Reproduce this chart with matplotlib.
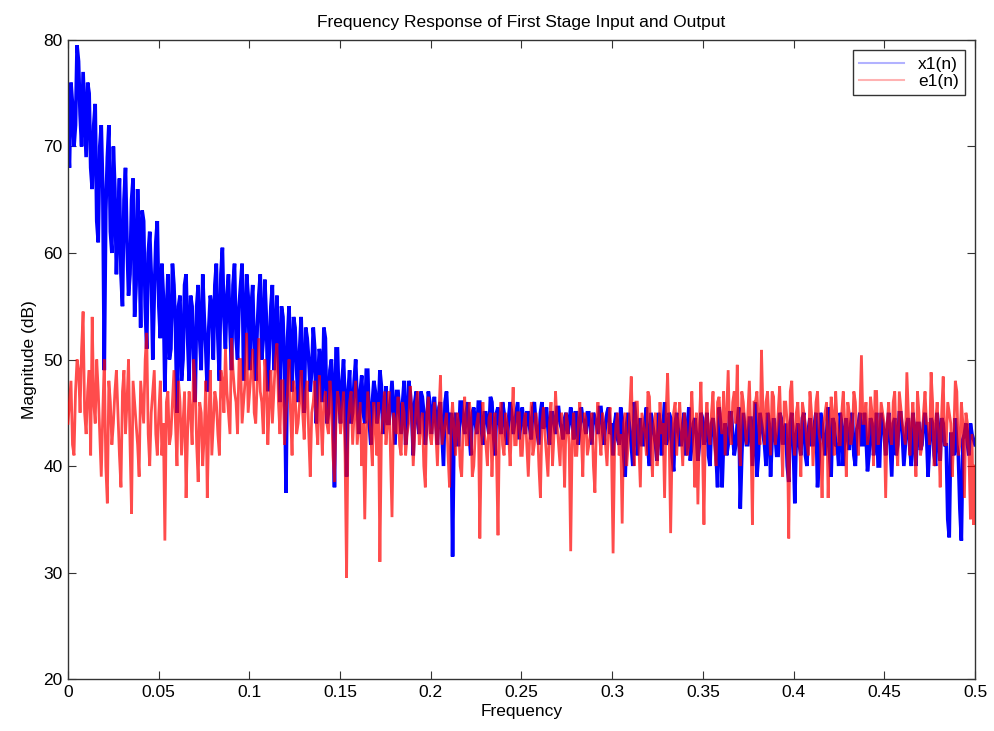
import numpy as np
import matplotlib
matplotlib.use("Agg")
import matplotlib.pyplot as plt
from matplotlib import font_manager

# ---------------- data (dB) ----------------
# main samples
x1_db = [
    71, 76, 70, 79.5, 73, 77, 69, 75, 66, 74, 61, 72, 49, 69, 62, 70, 58, 67, 55, 68, 56, 65, 54, 66, 53, 63, 51, 62, 50, 61,
    55, 59, 47, 58, 51, 57, 45, 56, 50, 58, 48, 55, 46, 57, 49, 54, 47, 56, 50, 59, 48, 60.5, 51, 58, 49, 59, 50, 57, 48, 58,
    49, 57, 48, 56, 50, 57.5, 47, 55, 49, 56, 46, 54, 37.5, 55, 47, 53, 46, 54, 45, 52, 47, 53, 44, 51, 46, 52, 45, 50, 38, 51,
    44, 50, 39, 49, 45, 50, 43, 48.5, 44, 49, 42, 48, 44, 49, 43, 47.5, 44, 48, 42, 47, 43, 48, 44, 47, 41, 47, 43, 46.5, 42, 47,
    43, 46.5, 42, 46, 40, 47, 43, 31.5, 45, 42, 46, 43, 46, 41, 45.5, 43, 46, 42, 45, 43, 46, 41, 45.5, 43, 45, 42, 46, 43, 45, 42.5,
    45.5, 43, 45, 42.5, 46, 43, 45, 43.5, 45.5, 42, 45, 43, 45.5, 43.5, 44.5, 43, 45.5, 42.5, 45, 43.5, 44.5, 43, 45, 42, 44.5, 43, 45.5, 42, 45, 43,
    41, 45, 42, 44.5, 39, 45, 42, 46, 41, 44.5, 42, 45.5, 40, 44, 42, 45, 41, 46, 42.5, 44.5, 39.5, 45, 42, 44, 41, 45.5, 42, 44.5, 40.5, 45,
    42, 45, 40, 44.5, 41, 45.5, 38, 44, 42, 45, 41, 44, 36, 45, 42, 44.5, 40, 46, 41, 44, 42, 45, 39, 44.5, 41, 45, 42, 44, 38.5, 45,
    36.5, 44, 41, 45, 40, 44.5, 42, 45, 40.5, 44, 41, 45.5, 39, 44, 42, 45, 40, 44.5, 41.5, 45, 40, 44, 42, 45, 39.5, 44.5, 41, 45, 40, 44,
    41, 45, 39, 44.5, 42, 45, 40, 44, 41.5, 45, 40, 44, 42, 45, 39, 44.5, 41, 45, 40.5, 44, 42, 33.3, 43, 44.5, 41, 33, 43, 42, 44, 42.5,
]
# in-between samples
x1_db_mid = [
    68, 74, 72, 78, 70, 73, 76, 68, 72, 63, 70, 66, 64, 72, 60, 66, 63, 58, 65, 61, 58, 67, 57, 61, 64, 55, 60, 58, 56, 63,
    52, 56, 54, 50, 59, 53, 55, 48, 57, 52, 56, 50, 55, 52, 58, 51, 53, 55, 57, 52, 58, 54, 56, 53, 57, 52, 55, 59, 53, 56,
    55, 51, 53, 58, 52, 54, 51, 57, 52, 50, 55, 49, 52, 50, 54, 49, 51, 48, 53, 50, 49, 51, 48, 50, 53, 44, 49, 47, 51, 46,
    48, 46, 47, 44, 48, 46, 47, 45, 49, 44, 46, 47, 45, 47.5, 45, 44, 46, 45, 47, 45, 46, 42, 48, 45, 46, 44, 47, 45, 44, 46,
    45, 44, 45.5, 43, 46, 44, 45, 44, 42, 46, 44, 45, 43, 45, 44, 46, 43.5, 45, 44, 46.5, 43, 45, 44, 46, 43, 44.5, 45, 44, 46, 44,
    44, 45, 43.5, 45.5, 44, 42, 46, 44, 43.5, 45, 44, 45.5, 44, 42.5, 45, 44, 44.5, 45, 42, 45.5, 44, 45, 43.5, 45, 44, 45.5, 43.5, 44, 45.5, 44,
    44, 42.5, 45.5, 41, 44, 43.5, 40, 44.5, 43, 42, 44, 41.5, 45, 43, 40.5, 44, 43.5, 42, 45, 41, 44, 43.5, 42, 45, 43, 40.5, 44, 43, 42, 44.5,
    43, 41, 44, 43, 38, 44, 42.5, 41, 45, 43, 42, 45.5, 41, 43.5, 42, 44.5, 43, 39, 45, 43, 40, 44, 42.5, 43, 41, 44.5, 43, 40, 44, 42,
    43, 42, 44.5, 41, 43.5, 42, 44, 38, 45, 42.5, 43, 41, 44.5, 42, 40, 44, 43, 42.5, 44, 41, 43.5, 45, 42, 43, 41, 44, 42.5, 40, 45, 43,
    43.5, 42, 44, 41, 45, 43, 42, 44.5, 40, 43, 44, 41.5, 44, 43, 42, 44, 40, 43, 44.5, 42, 35, 43, 41, 42, 36, 42.5, 44, 41, 43, 42,
]

e1_db = [
    44, 48, 41, 50, 45, 54.5, 43, 49, 54, 44, 47, 39, 50, 36.5, 46, 44, 49, 41, 47, 43, 50, 35.5, 46, 42, 48, 44, 52.5, 40, 47, 43,
    45, 41, 33, 47, 43, 49, 40, 46, 44, 37, 47, 42, 48, 38.5, 45, 43, 37, 49, 44, 46, 41, 48, 51, 45, 52, 47, 43, 50, 46, 52.5,
    47, 51, 44, 52, 46, 50, 42, 49, 47, 51.5, 43, 48, 45, 50, 41, 47, 44, 49, 42.5, 48, 39, 46, 44, 48.5, 41, 47, 43, 46, 38.5, 47,
    43, 47, 29.5, 46, 42, 48, 44, 40, 35, 47, 43, 46, 41, 31, 45, 42, 47, 35.2, 44, 46.5, 41, 45, 43, 47.5, 40, 46, 42, 45, 38, 46.5,
    42, 46, 40, 48.5, 43, 45, 38, 46, 41, 44, 39, 46.5, 42, 45, 40, 44, 33.2, 46, 42, 44.5, 39, 45, 33.5, 46, 41, 44, 40, 47.4, 42, 45,
    41, 45, 39, 46, 42, 44, 37, 45.5, 41, 44, 40, 47, 42, 45, 38, 44, 32, 45, 41, 46, 39, 44.5, 42, 45, 37.5, 46, 41, 44, 40, 45.5,
    31.8, 44, 41, 34.6, 45, 42, 48.4, 40, 46, 38, 44, 41, 46.5, 39, 45, 42, 43, 37, 48.7, 33.7, 45, 41, 46, 40, 44, 42, 47, 38, 36.4, 47.9,
    34.5, 46, 42, 47, 40, 46.5, 43, 41, 49, 42, 47, 49.5, 40, 46, 42, 48, 34.5, 46, 44, 50.9, 42, 47, 41, 46.5, 43, 47.5, 39, 46, 33.2, 48,
    41, 46, 39, 45, 42, 47, 40, 46, 43, 37, 45, 37, 46.5, 41, 44, 42, 47, 39, 45, 43, 46, 41, 50.4, 44, 42, 46.5, 40, 47, 43, 45,
    37, 46, 42, 47, 40, 45.5, 43, 48.8, 41, 46, 39, 45, 42, 47, 44, 48.8, 40, 46, 38, 48.4, 42, 45, 39, 48, 41, 46, 37, 44, 35, 34.5,
]
e1_db_mid = [
    46, 42, 47, 49, 51, 45, 47, 41, 46, 50, 43, 45, 40, 48, 42, 47, 45, 38, 49, 46, 42, 48, 44, 39, 46, 50, 43, 45, 49, 41,
    48, 44, 46, 42, 46, 44, 48, 41, 47, 43, 45, 50, 42, 46, 40, 48, 44, 41, 47, 43, 49, 45, 47, 43, 49, 46, 50, 44, 48, 45,
    49, 45, 48, 47, 43, 48, 46, 44, 50, 46, 48, 42, 47, 45, 48, 43, 46, 45, 47, 43, 45, 48, 42, 45, 46, 44, 48, 41, 44, 46,
    45, 41, 44, 47, 45, 42, 46, 44, 43, 45, 40, 44, 46, 43, 47, 44, 41, 45, 43, 42, 46, 41, 44, 45, 43, 47, 44, 40, 45, 43,
    44, 43, 45, 42, 44, 41, 44, 43, 45, 40, 44, 42, 46, 39, 43, 45, 42, 43, 40, 45, 43, 41, 44, 42, 45, 43, 44, 42, 45, 41,
    44, 42, 43, 41, 45, 40, 44, 43, 39, 46, 43, 44, 40, 43, 45, 42, 43, 41, 44, 43, 45, 41, 43, 40, 44, 43, 45, 42, 44, 41,
    42, 45, 43, 44, 40, 45, 43, 46, 42, 45, 43, 47, 42, 44, 40, 46, 44, 45, 43, 42, 46, 44, 43, 45, 41, 44, 43, 45, 44, 42,
    44, 43, 45, 42, 46, 44, 47, 45, 43, 46, 44, 42, 47, 44, 45, 43, 46, 47, 42, 45, 46, 44, 47, 42, 45, 43, 46, 44, 47, 43,
    45, 43, 46, 44, 41, 45, 43, 47, 42, 44, 46, 43, 45, 47, 42, 45, 44, 46, 42, 47, 43, 45, 44, 46, 43, 45, 47, 42, 46, 44,
    44, 43, 46, 42, 47, 44, 42, 45, 44, 43, 47, 41, 45, 44, 42, 46, 44, 43, 45, 42, 46, 44, 43, 47, 42, 44, 45, 41, 43, 40,
]

series_labels = ["x1(n)", "e1(n)"]
x_ticks = [0, 0.05, 0.1, 0.15, 0.2, 0.25, 0.3, 0.35, 0.4, 0.45, 0.5]
x_tick_labels = ["0", "0.05", "0.1", "0.15", "0.2", "0.25", "0.3", "0.35", "0.4", "0.45", "0.5"]
y_ticks = [20, 30, 40, 50, 60, 70, 80]


def interleave(a, b):
    out = []
    for p, q in zip(a, b):
        out.extend([p, q])
    return out


x1_all = interleave(x1_db, x1_db_mid)
e1_all = interleave(e1_db, e1_db_mid)
freq_x1 = np.linspace(0, 0.5, len(x1_all))
freq_e1 = np.linspace(0, 0.5, len(e1_all))

# ---------------- styling ----------------
names = {f.name for f in font_manager.fontManager.ttflist}
fam = "Liberation Sans Narrow" if "Liberation Sans Narrow" in names else "Liberation Sans"
plt.rcParams["font.family"] = [fam, "DejaVu Sans"]

fig = plt.figure(figsize=(9.95, 7.31), dpi=100)
ax = fig.add_axes([0.0683, 0.0711, 0.9116, 0.8742])

ax.plot(freq_x1, x1_all, color="#0000ff", lw=2.6, alpha=1.0, label=series_labels[0],
        zorder=2, solid_joinstyle="miter")
ax.plot(freq_e1, e1_all, color="#ff0000", lw=2.0, alpha=0.7, label=series_labels[1],
        zorder=3, solid_joinstyle="miter")

ax.set_xlim(0, 0.5)
ax.set_ylim(20, 80)
ax.set_xticks(x_ticks)
ax.set_xticklabels(x_tick_labels)
ax.set_yticks(y_ticks)
ax.tick_params(direction="in", length=6, width=0.8, top=True, right=True,
               labelsize=12.5, colors="#333333", labelcolor="black", pad=4)
for s in ax.spines.values():
    s.set_linewidth(1.0)
    s.set_color("#333333")

ax.set_xlabel("Frequency", fontsize=12.5, labelpad=3)
ax.set_ylabel("Magnitude (dB)", fontsize=12.5, labelpad=4)
ax.set_title("Frequency Response of First Stage Input and Output", fontsize=12.5, pad=9)

leg = ax.legend(loc="upper right", fontsize=12.5, frameon=True, fancybox=False,
                edgecolor="black", borderaxespad=0.6, handlelength=2.6,
                handletextpad=0.8, borderpad=0.35, labelspacing=0.15)
leg.get_frame().set_linewidth(1.0)
for h in leg.get_lines():
    h.set_alpha(0.3)
    h.set_linewidth(1.5)

fig.savefig("out.png", dpi=100)
